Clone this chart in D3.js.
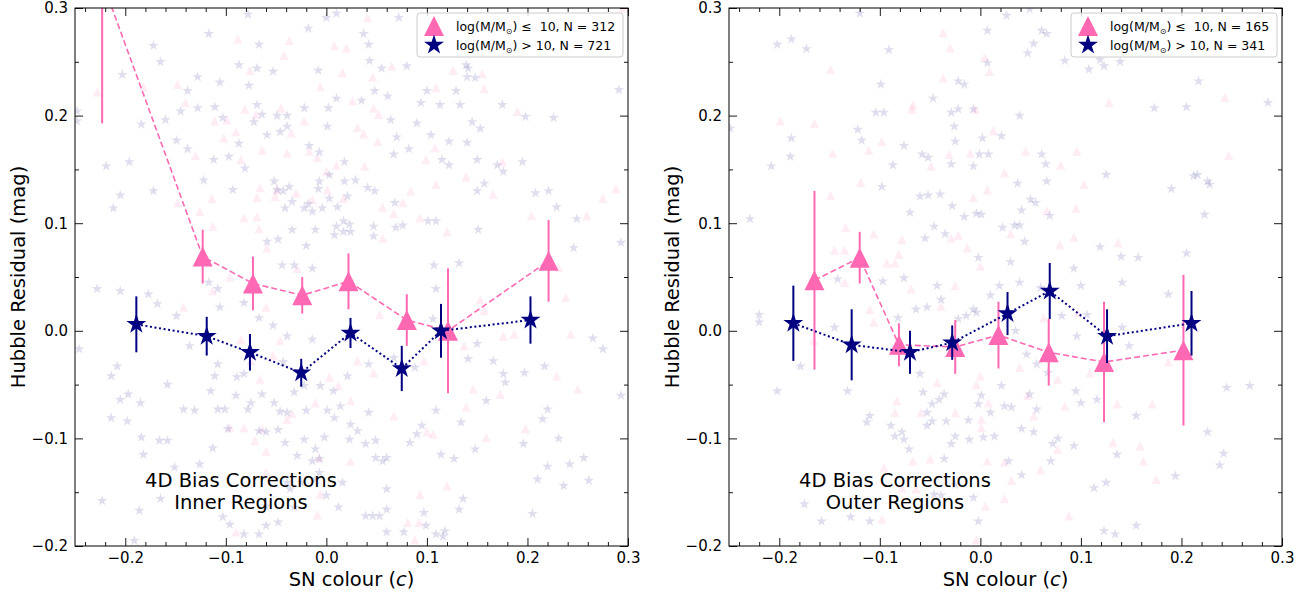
<!DOCTYPE html>
<html>
<head>
<meta charset="utf-8">
<script src="https://cdn.jsdelivr.net/npm/d3@7"></script>
<style>
  body { margin: 0; background: #fff; }
  svg text { font-family: "DejaVu Sans", sans-serif; fill: #000; }
</style>
</head>
<body>
<svg id="fig" width="1314" height="595"></svg>
<script>
// ---------- axis ticks ----------
const xMajorTicks = [-0.2, -0.1, 0.0, 0.1, 0.2, 0.3];
const xMinorTicks = [-0.24, -0.22, -0.18, -0.16, -0.14, -0.12, -0.08, -0.06, -0.04, -0.02,
                     0.02, 0.04, 0.06, 0.08, 0.12, 0.14, 0.16, 0.18, 0.22, 0.24, 0.26, 0.28];
const yMajorTicks = [-0.2, -0.1, 0.0, 0.1, 0.2, 0.3];
const yMinorTicks = [-0.15, -0.05, 0.05, 0.15, 0.25];

// ---------- binned means: inner regions ----------
const innerLowC    = [-0.223, -0.123, -0.073, -0.024, 0.022, 0.080, 0.121, 0.221];
const innerLowHR   = [0.325, 0.069, 0.044, 0.033, 0.046, 0.010, 0.000, 0.065];
const innerLowErr  = [0.132, 0.025, 0.025, 0.017, 0.026, 0.024, 0.058, 0.038];
const innerHighC   = [-0.189, -0.119, -0.076, -0.025, 0.024, 0.075, 0.114, 0.203];
const innerHighHR  = [0.006, -0.005, -0.020, -0.039, -0.002, -0.035, 0.000, 0.010];
const innerHighErr = [0.026, 0.018, 0.017, 0.013, 0.014, 0.021, 0.025, 0.022];

// ---------- binned means: outer regions ----------
const outerLowC    = [-0.165, -0.120, -0.081, -0.025, 0.018, 0.068, 0.123, 0.202];
const outerLowHR   = [0.047, 0.068, -0.013, -0.015, -0.004, -0.020, -0.029, -0.018];
const outerLowErr  = [0.083, 0.024, 0.020, 0.025, 0.031, 0.031, 0.056, 0.070];
const outerHighC   = [-0.186, -0.128, -0.070, -0.028, 0.027, 0.069, 0.126, 0.210];
const outerHighHR  = [0.007, -0.013, -0.020, -0.011, 0.016, 0.037, -0.005, 0.007];
const outerHighErr = [0.035, 0.033, 0.020, 0.016, 0.020, 0.026, 0.025, 0.030];

// ---------- individual SNe (colour, Hubble residual) ----------
const innerHighSN = [
 [-0.248,0.204],[-0.248,0.195],[-0.219,0.153],[-0.196,0.157],[-0.205,0.126],[-0.212,0.114],[-0.172,0.130],
 [-0.172,0.265],[-0.165,0.250],[-0.203,0.238],[-0.184,0.192],[-0.160,0.196],[-0.138,0.223],[-0.145,0.204],
 [-0.149,0.177],[-0.138,0.169],[-0.128,0.236],[-0.128,0.207],[-0.122,0.140],[-0.117,0.276],[-0.111,0.208],
 [-0.106,0.231],[-0.103,0.198],[-0.112,0.159],[-0.097,0.162],[-0.093,0.131],[-0.087,0.247],[-0.087,0.174],
 [-0.081,0.151],[-0.077,0.228],[-0.069,0.210],[-0.072,0.194],[-0.069,0.244],[-0.067,0.266],[-0.064,0.201],
 [-0.059,0.182],[-0.053,0.241],[-0.049,0.200],[-0.046,0.185],[-0.039,0.200],[-0.039,0.190],[-0.052,0.139],
 [-0.049,0.131],[-0.043,0.130],[-0.037,0.134],[-0.034,0.120],[-0.041,0.114],[-0.022,0.207],[-0.017,0.172],
 [-0.018,0.281],[-0.008,0.242],[-0.007,0.166],[0.001,0.190],[0.002,0.207],[0.010,0.216],[0.010,0.295],
 [0.000,0.291],[0.018,0.157],[0.018,0.139],[0.021,0.125],[0.029,0.140],[0.035,0.214],[0.041,0.133],
 [0.037,0.276],[0.042,0.266],[0.043,0.251],[0.048,0.223],[0.048,0.130],[0.055,0.244],[0.061,0.218],
 [0.064,0.196],[0.067,0.164],[0.068,0.119],[0.070,0.180],[0.080,0.246],[0.082,0.169],[0.094,0.212],
 [0.090,0.193],[0.100,0.223],[0.104,0.182],[0.113,0.210],[0.115,0.159],[0.122,0.176],[0.122,0.154],
 [0.129,0.223],[0.133,0.210],[0.139,0.247],[0.140,0.236],[0.140,0.175],[0.145,0.194],[0.150,0.159],
 [0.153,0.188],[0.157,0.137],[0.150,0.130],[0.170,0.154],[0.175,0.210],[0.176,0.148],[0.195,0.157],
 [0.198,0.199],[0.226,0.198],[0.221,0.130],[0.229,0.115],[0.249,0.104],[0.291,0.224],[0.293,0.082],
 [-0.018,0.118],[-0.022,0.114],[-0.014,0.111],[-0.004,0.114],[0.003,0.123],[0.011,0.115],[0.017,0.102],
 [0.023,0.099],[0.010,0.097],[0.003,0.145],[-0.007,0.139],[-0.008,0.132],[-0.034,0.094],[-0.020,0.079],
 [-0.011,0.094],[0.008,0.089],[0.017,0.092],[0.024,0.092],[0.047,0.097],[0.047,0.088],[0.069,0.096],
 [0.076,0.098],[0.101,0.102],[0.109,0.102],[0.107,0.061],[0.132,0.063],[0.151,0.094],[0.246,0.077],
 [0.208,0.128],[-0.059,0.083],[-0.048,0.085],[-0.044,0.061],[-0.032,0.061],[-0.014,0.058],[0.141,0.244],
 [0.148,0.235],[0.072,0.291],[-0.078,0.294],
 [-0.228,0.039],[-0.205,0.037],[-0.177,0.034],[-0.246,-0.017],[-0.208,-0.033],[-0.214,-0.042],[-0.205,-0.064],
 [-0.197,-0.059],[-0.185,-0.067],[-0.158,-0.050],[-0.214,-0.081],[-0.198,-0.084],[-0.184,-0.099],[-0.166,-0.102],
 [-0.158,-0.102],[-0.182,-0.115],[-0.191,-0.195],[-0.223,-0.158],[-0.186,-0.167],[-0.165,-0.156],[-0.151,-0.127],
 [-0.142,-0.073],[-0.131,-0.074],[-0.126,-0.124],[-0.113,-0.109],[-0.115,-0.056],[-0.111,-0.042],[-0.108,-0.031],
 [-0.108,-0.073],[-0.101,-0.073],[-0.098,-0.091],[-0.089,-0.043],[-0.090,-0.060],[-0.082,-0.040],[-0.078,-0.073],
 [-0.075,-0.067],[-0.064,-0.059],[-0.067,-0.093],[-0.060,-0.094],[-0.048,-0.092],[-0.052,-0.067],[-0.046,-0.075],
 [-0.041,-0.104],[-0.039,-0.076],[-0.032,-0.057],[-0.022,-0.051],[-0.020,-0.074],[-0.029,-0.116],[-0.022,-0.101],
 [-0.039,-0.141],[-0.036,-0.147],[-0.025,-0.141],[-0.014,-0.121],[-0.007,-0.119],[-0.007,-0.132],[-0.011,-0.110],
 [-0.002,-0.099],[0.001,-0.074],[0.008,-0.081],[0.014,-0.070],[0.023,-0.101],[0.024,-0.087],[0.031,-0.093],
 [0.039,-0.105],[0.042,-0.076],[0.049,-0.102],[0.049,-0.118],[0.056,-0.121],[0.060,-0.118],[0.060,-0.147],
 [0.046,-0.172],[0.053,-0.172],[0.060,-0.166],[0.060,-0.187],[0.077,-0.187],[0.083,-0.104],[0.090,-0.096],
 [0.095,-0.088],[0.097,-0.169],[0.099,-0.181],[0.109,-0.074],[0.114,-0.115],[0.109,-0.189],[0.116,-0.191],
 [0.118,-0.186],[0.127,-0.119],[0.134,-0.085],[0.132,-0.166],[0.136,-0.156],[0.148,-0.110],[0.159,-0.065],
 [0.166,-0.028],[0.176,-0.040],[0.178,-0.048],[0.196,-0.105],[0.197,-0.039],[0.205,-0.170],[0.210,-0.138],
 [0.215,-0.082],[0.220,-0.073],[0.220,-0.126],[0.231,-0.100],[0.236,-0.144],[0.242,-0.124],[0.256,-0.118],
 [0.261,-0.139],[0.265,-0.007],[0.275,-0.017],[0.293,-0.060],[0.217,-0.033],[0.141,-0.026],[0.150,-0.012],
 [0.106,0.011],[0.109,0.039],[0.088,-0.034],[0.067,-0.025],[0.042,-0.031],[0.021,-0.042],[0.007,-0.056],
 [-0.006,-0.051],[-0.014,-0.008],[-0.039,-0.005],[-0.043,-0.029],[-0.053,0.005],[-0.067,0.012],[-0.082,0.026],
 [-0.106,0.022],[-0.108,0.039],[-0.117,0.045],[-0.149,0.014],[-0.136,-0.014],[-0.168,0.025],[-0.060,-0.181],
 [-0.048,-0.178],[-0.067,-0.189],[-0.082,-0.189],[-0.096,-0.180],[-0.103,-0.173],[-0.060,-0.163],[-0.011,-0.138],
 [0.016,-0.141],[0.012,-0.164],[0.039,-0.172],[0.000,-0.153],[-0.032,-0.164]
];
const innerLowSN = [
 [-0.228,0.222],[-0.182,0.227],[-0.148,0.229],[-0.140,0.212],[-0.130,0.163],[-0.126,0.111],[-0.148,0.119],
 [-0.114,0.123],[-0.113,0.097],[-0.111,0.195],[-0.099,0.196],[-0.102,0.179],[-0.090,0.185],[-0.085,0.159],
 [-0.088,0.271],[-0.081,0.206],[-0.076,0.242],[-0.070,0.201],[-0.066,0.133],[-0.069,0.124],[-0.069,0.106],
 [-0.064,0.168],[-0.049,0.131],[-0.051,0.125],[-0.045,0.207],[-0.042,0.256],[-0.037,0.270],[-0.035,0.184],
 [-0.039,0.165],[-0.030,0.128],[-0.022,0.195],[-0.017,0.167],[-0.014,0.122],[-0.009,0.161],[-0.006,0.227],
 [0.000,0.148],[0.001,0.131],[0.008,0.265],[0.010,0.154],[0.016,0.240],[0.017,0.123],[0.020,0.263],
 [0.026,0.214],[0.031,0.189],[0.037,0.183],[0.038,0.153],[0.041,0.291],[0.047,0.207],[0.046,0.236],
 [0.052,0.201],[0.051,0.176],[0.056,0.115],[0.065,0.246],[0.067,0.109],[0.076,0.119],[0.084,0.130],
 [0.093,0.105],[0.109,0.226],[0.108,0.170],[0.109,0.136],[0.099,0.159],[0.126,0.242],[0.139,0.143],
 [0.155,0.239],[0.157,0.225],[0.166,0.127],[0.175,0.157],[0.190,0.204],[0.204,0.107],[0.259,0.107],
 [0.275,0.123],[0.288,0.132],[0.295,0.300],[0.231,0.059],[0.120,0.092],[0.056,0.086],[-0.029,0.058],
 [-0.059,0.077],[-0.067,0.095],[-0.082,0.105],
 [-0.142,0.022],[-0.113,0.037],[-0.096,0.050],[-0.085,-0.008],[-0.075,-0.028],[-0.066,-0.045],[-0.060,0.022],
 [-0.046,-0.009],[-0.053,-0.023],[-0.034,-0.077],[-0.011,-0.067],[0.003,-0.043],[0.012,-0.051],[0.024,-0.065],
 [0.031,-0.028],[0.047,-0.039],[0.053,0.015],[0.067,-0.079],[0.097,-0.028],[0.100,-0.094],[0.106,-0.096],
 [0.137,-0.014],[0.139,-0.071],[0.146,-0.054],[0.159,-0.099],[0.173,-0.059],[0.176,-0.005],[0.187,-0.003],
 [0.198,-0.091],[0.229,-0.042],[0.243,-0.003],[0.250,-0.054],[0.238,0.031],[0.153,0.029],[0.157,0.019],
 [0.120,-0.144],[0.093,-0.152],[0.081,-0.178],[0.092,-0.178],[0.088,-0.194],[-0.009,-0.171],[-0.007,-0.118],
 [-0.039,-0.082],[-0.064,-0.091],[-0.082,-0.090],[-0.096,-0.090],[-0.071,-0.102],[-0.060,-0.112],[-0.060,-0.132],
 [-0.090,-0.187],[0.024,-0.121],[-0.006,-0.152]
];
const outerHighSN = [
 [-0.249,0.188],[-0.229,0.104],[-0.208,0.153],[-0.202,0.266],[-0.188,0.271],[-0.173,0.262],[-0.189,0.162],
 [-0.188,0.179],[-0.122,0.187],[-0.118,0.177],[-0.120,0.295],[-0.099,0.229],[-0.104,0.203],[-0.096,0.203],
 [-0.098,0.134],[-0.091,0.261],[-0.087,0.154],[-0.076,0.172],[-0.070,0.110],[-0.060,0.125],[-0.058,0.164],
 [-0.055,0.086],[-0.052,0.161],[-0.047,0.216],[-0.046,0.097],[-0.052,0.126],[-0.040,0.127],[-0.035,0.090],
 [-0.029,0.203],[-0.026,0.190],[-0.025,0.176],[-0.028,0.116],[-0.029,0.155],[-0.022,0.232],[-0.022,0.206],
 [-0.016,0.229],[-0.016,0.106],[-0.007,0.153],[-0.007,0.206],[-0.004,0.109],[-0.002,0.068],[-0.001,0.164],
 [0.001,0.108],[0.002,0.179],[0.007,0.279],[0.007,0.249],[0.008,0.164],[0.021,0.181],[0.022,0.096],
 [0.026,0.293],[0.030,0.064],[0.034,0.098],[0.039,0.200],[0.039,0.098],[0.037,0.137],[0.044,0.083],
 [0.041,0.112],[0.047,0.258],[0.050,0.122],[0.055,0.119],[0.053,0.267],[0.061,0.279],[0.066,0.276],
 [0.061,0.164],[0.066,0.139],[0.065,0.155],[0.069,0.107],[0.084,0.251],[0.108,0.243],[0.119,0.252],
 [0.123,0.246],[0.125,0.145],[0.119,0.078],[0.140,0.069],[0.157,0.068],[0.173,0.207],[0.190,0.132],
 [0.205,0.208],[0.212,0.144],[0.216,0.145],[0.226,0.139],[0.228,0.136],[0.217,0.232],[0.223,0.108],
 [0.205,0.072],[0.286,0.212],[0.139,0.250],[0.120,0.268],[0.093,0.058],[0.049,0.299],
 [-0.220,0.015],[-0.220,0.008],[-0.202,-0.056],[-0.179,-0.033],[-0.175,-0.161],[-0.158,-0.177],[-0.145,0.003],
 [-0.132,-0.056],[-0.129,-0.173],[-0.113,-0.085],[-0.110,-0.079],[-0.110,-0.177],[-0.097,0.046],[-0.089,-0.088],
 [-0.085,-0.098],[-0.078,-0.094],[-0.076,-0.101],[-0.071,-0.110],[-0.076,0.049],[-0.082,0.012],[-0.064,0.020],
 [-0.060,-0.040],[-0.057,-0.057],[-0.053,-0.076],[-0.053,-0.088],[-0.048,-0.084],[-0.048,-0.068],[-0.041,-0.064],
 [-0.036,-0.059],[-0.034,-0.084],[-0.029,-0.105],[-0.025,-0.098],[-0.036,-0.119],[-0.046,-0.152],[-0.039,-0.153],
 [-0.025,-0.143],[-0.007,-0.155],[-0.002,-0.177],[-0.012,-0.083],[-0.011,-0.101],[-0.002,-0.068],[0.001,-0.060],
 [0.003,-0.099],[0.010,-0.076],[0.014,-0.098],[0.021,-0.051],[0.024,-0.070],[0.028,-0.121],[0.031,-0.071],
 [0.041,-0.091],[0.041,-0.134],[0.049,-0.059],[0.053,-0.094],[0.056,-0.073],[0.070,-0.121],[0.072,-0.105],
 [0.077,-0.100],[0.081,0.014],[0.093,-0.107],[0.095,-0.056],[0.100,-0.067],[0.106,0.015],[0.113,-0.146],
 [0.116,-0.064],[0.125,-0.141],[0.123,-0.186],[0.134,-0.189],[0.136,-0.115],[0.148,-0.014],[0.155,-0.079],
 [0.155,-0.181],[0.194,-0.135],[0.226,-0.094],[0.238,-0.125],[0.242,-0.114],[0.245,-0.053],[0.268,-0.051],
 [0.187,0.034],[0.141,0.045],[0.100,0.042],[0.019,0.042],[-0.004,0.017],[-0.043,0.042],[-0.142,0.048],
 [0.035,0.000],[0.046,-0.022],[0.056,-0.031],[0.067,-0.039],[0.060,0.040],[-0.014,0.014],[-0.022,0.011],
 [-0.053,0.022],[-0.039,0.029],[0.010,0.033],[0.096,-0.005],[0.039,0.045],[-0.007,0.020],[0.141,0.003]
];
const outerLowSN = [
 [-0.199,0.195],[-0.165,0.193],[-0.149,0.243],[-0.147,0.165],[-0.149,0.126],[-0.119,0.138],[-0.111,0.168],
 [-0.106,0.090],[-0.098,0.176],[-0.093,0.063],[-0.085,0.063],[-0.081,0.071],[-0.078,0.085],[-0.067,0.210],
 [-0.068,0.206],[-0.049,0.153],[-0.037,0.235],[-0.037,0.277],[-0.030,0.263],[-0.031,0.164],[-0.029,0.086],
 [-0.022,0.089],[-0.013,0.077],[-0.010,0.165],[-0.007,0.124],[-0.005,0.206],[0.000,0.060],[0.004,0.254],
 [0.007,0.131],[0.009,0.241],[0.013,0.186],[0.024,0.147],[0.030,0.090],[0.045,0.167],[0.066,0.112],
 [0.079,0.080],[0.080,0.154],[0.093,0.087],[0.095,0.114],[0.096,0.167],[0.103,0.136],[0.128,0.212],
 [0.137,0.082],[0.243,0.217],[0.247,0.163],[-0.134,0.096],[-0.135,0.075],[-0.145,0.075],
 [-0.166,-0.009],[-0.135,0.045],[-0.110,0.020],[-0.106,0.008],[-0.083,-0.065],[-0.085,-0.076],[-0.059,-0.076],
 [-0.043,-0.048],[-0.030,-0.009],[-0.025,-0.076],[-0.004,-0.050],[0.000,-0.042],[0.001,-0.082],[0.001,-0.090],
 [0.008,-0.067],[0.007,-0.121],[0.024,-0.122],[0.031,-0.139],[0.039,-0.034],[0.047,-0.060],[0.053,-0.079],
 [0.060,-0.129],[0.077,-0.110],[0.084,-0.070],[0.097,0.017],[0.132,-0.104],[0.136,-0.068],[0.159,-0.107],
 [0.162,-0.121],[0.171,-0.068],[0.175,-0.138],[0.187,-0.029],[0.109,-0.039],[0.077,-0.045],[0.063,0.012],
 [-0.067,-0.121],[-0.050,-0.119],[-0.064,-0.147],[-0.096,-0.127],[-0.098,-0.175],[-0.078,-0.146],[0.005,-0.163],
 [0.024,-0.156],[-0.025,0.042],[-0.039,0.023],[-0.069,0.039],[0.088,-0.172],[-0.004,-0.194]
];

// ---------- styling ----------
const LOW_COLOR = "#ff69b4";
const HIGH_COLOR = "#000080";
const SCATTER_ALPHA = 0.13;

const svg = d3.select("#fig");

// five-pointed star centred on its circumscribed circle
function starPath(R) {
  const r = R * 0.381966;
  const pts = d3.range(10).map(i => {
    const a = -Math.PI / 2 + i * Math.PI / 5;
    const rr = i % 2 ? r : R;
    return [rr * Math.cos(a), rr * Math.sin(a)];
  });
  return "M" + pts.map(p => p[0].toFixed(2) + "," + p[1].toFixed(2)).join("L") + "Z";
}
// upward triangle centred on its bounding box
function triPath(h) {
  return `M0,${-h}L${-h},${h}L${h},${h}Z`;
}

function drawPanel(cfg) {
  const x = d3.scaleLinear().domain([-0.25, 0.3]).range([cfg.left, cfg.right]);
  const y = d3.scaleLinear().domain([-0.2, 0.3]).range([cfg.bottom, cfg.top]);
  const g = svg.append("g");

  const clipId = "clip-" + cfg.id;
  svg.append("defs").append("clipPath").attr("id", clipId)
    .append("rect")
    .attr("x", cfg.left).attr("y", cfg.top)
    .attr("width", cfg.right - cfg.left).attr("height", cfg.bottom - cfg.top);

  const plot = g.append("g").attr("clip-path", `url(#${clipId})`);

  // individual supernovae
  plot.append("g").selectAll("path").data(cfg.lowSN).join("path")
    .attr("d", triPath(4.6))
    .attr("transform", d => `translate(${x(d[0])},${y(d[1])})`)
    .attr("fill", LOW_COLOR).attr("fill-opacity", SCATTER_ALPHA);
  plot.append("g").selectAll("path").data(cfg.highSN).join("path")
    .attr("d", starPath(5.6))
    .attr("transform", d => `translate(${x(d[0])},${y(d[1])})`)
    .attr("fill", HIGH_COLOR).attr("fill-opacity", SCATTER_ALPHA);

  // binned means with error bars
  function binned(cs, hrs, errs, color, dash, lw, marker) {
    const pts = cs.map((c, i) => ({ c, hr: hrs[i], err: errs[i] }));
    plot.append("path")
      .datum(pts)
      .attr("d", d3.line().x(d => x(d.c)).y(d => y(d.hr)))
      .attr("fill", "none").attr("stroke", color)
      .attr("stroke-width", lw).attr("stroke-dasharray", dash);
    plot.append("g").selectAll("line").data(pts).join("line")
      .attr("x1", d => x(d.c)).attr("x2", d => x(d.c))
      .attr("y1", d => y(d.hr - d.err)).attr("y2", d => y(d.hr + d.err))
      .attr("stroke", color).attr("stroke-width", 2);
    plot.append("g").selectAll("path").data(pts).join("path")
      .attr("d", marker)
      .attr("transform", d => `translate(${x(d.c)},${y(d.hr)})`)
      .attr("fill", color);
  }
  binned(cfg.lowC, cfg.lowHR, cfg.lowErr, LOW_COLOR, "6,3", 1.6, triPath(10));
  binned(cfg.highC, cfg.highHR, cfg.highErr, HIGH_COLOR, "2,2.6", 2, starPath(10.5));

  // axes: ticks pointing inward on all four sides
  const fmt = d3.format(".1f");
  const axes = g.append("g");
  const addAxis = (gen, transform) => {
    const a = axes.append("g").attr("transform", transform).call(gen);
    a.select(".domain").remove();
    a.selectAll(".tick line").attr("stroke", "#000").attr("stroke-width", 0.9);
    a.selectAll("text").attr("font-size", 15).attr("fill", "#000")
      .attr("font-family", '"DejaVu Sans", sans-serif');
    return a;
  };
  addAxis(d3.axisBottom(x).tickValues(xMajorTicks).tickSize(-8).tickPadding(6).tickFormat(fmt),
          `translate(0,${cfg.bottom})`);
  addAxis(d3.axisBottom(x).tickValues(xMinorTicks).tickSize(-4).tickFormat(""),
          `translate(0,${cfg.bottom})`);
  addAxis(d3.axisTop(x).tickValues(xMajorTicks).tickSize(-8).tickFormat(""),
          `translate(0,${cfg.top})`);
  addAxis(d3.axisTop(x).tickValues(xMinorTicks).tickSize(-4).tickFormat(""),
          `translate(0,${cfg.top})`);
  addAxis(d3.axisLeft(y).tickValues(yMajorTicks).tickSize(-8).tickPadding(7).tickFormat(fmt),
          `translate(${cfg.left},0)`);
  addAxis(d3.axisLeft(y).tickValues(yMinorTicks).tickSize(-4).tickFormat(""),
          `translate(${cfg.left},0)`);
  addAxis(d3.axisRight(y).tickValues(yMajorTicks).tickSize(-8).tickFormat(""),
          `translate(${cfg.right},0)`);
  addAxis(d3.axisRight(y).tickValues(yMinorTicks).tickSize(-4).tickFormat(""),
          `translate(${cfg.right},0)`);

  g.append("rect")
    .attr("x", cfg.left).attr("y", cfg.top)
    .attr("width", cfg.right - cfg.left).attr("height", cfg.bottom - cfg.top)
    .attr("fill", "none").attr("stroke", "#000").attr("stroke-width", 1);

  // axis titles
  const xl = g.append("text")
    .attr("x", (cfg.left + cfg.right) / 2).attr("y", 586)
    .attr("text-anchor", "middle").attr("font-size", 19.5);
  xl.append("tspan").text("SN colour (");
  xl.append("tspan").attr("font-style", "italic").text("c");
  xl.append("tspan").text(")");

  g.append("text")
    .attr("transform", `translate(${cfg.left - 57},${(cfg.top + cfg.bottom) / 2}) rotate(-90)`)
    .attr("text-anchor", "middle").attr("dy", "0.35em").attr("font-size", 19.5)
    .text("Hubble Residual (mag)");

  // panel annotation
  const ann = g.append("text").attr("text-anchor", "middle").attr("font-size", 19.5);
  ann.append("tspan").attr("x", cfg.left + 166).attr("y", 487).text("4D Bias Corrections");
  ann.append("tspan").attr("x", cfg.left + 166).attr("y", 509).text(cfg.region);

  // legend
  const lw = 206, lh = 44;
  const lx = cfg.right - 5 - lw, ly = cfg.top + 5;
  const leg = g.append("g");
  leg.append("rect").attr("x", lx).attr("y", ly).attr("width", lw).attr("height", lh)
    .attr("rx", 3).attr("fill", "#fff").attr("fill-opacity", 0.8)
    .attr("stroke", "#cccccc").attr("stroke-width", 1);
  const rows = [
    { marker: triPath(10), color: LOW_COLOR, rel: "\u00a0\u2264\u00a0\u00a010", n: cfg.nLow, cy: ly + 13 },
    { marker: starPath(10.5), color: HIGH_COLOR, rel: " > 10", n: cfg.nHigh, cy: ly + 32 }
  ];
  rows.forEach(r => {
    leg.append("path").attr("d", r.marker)
      .attr("transform", `translate(${lx + 17},${r.cy})`).attr("fill", r.color);
    const t = leg.append("text").attr("x", lx + 39).attr("y", r.cy).attr("dy", "0.36em")
      .attr("font-size", 12.5).style("white-space", "pre");
    t.append("tspan").text("log(M/M");
    t.append("tspan").attr("font-size", 8).attr("dy", 3).text("\u2299");
    t.append("tspan").attr("dy", -3).text(")" + r.rel + ", N = " + r.n);
  });
}

drawPanel({
  id: "inner", left: 75, right: 628, top: 8, bottom: 546, region: "Inner Regions",
  lowSN: innerLowSN, highSN: innerHighSN,
  lowC: innerLowC, lowHR: innerLowHR, lowErr: innerLowErr,
  highC: innerHighC, highHR: innerHighHR, highErr: innerHighErr,
  nLow: 312, nHigh: 721
});
drawPanel({
  id: "outer", left: 729, right: 1282, top: 8, bottom: 546, region: "Outer Regions",
  lowSN: outerLowSN, highSN: outerHighSN,
  lowC: outerLowC, lowHR: outerLowHR, lowErr: outerLowErr,
  highC: outerHighC, highHR: outerHighHR, highErr: outerHighErr,
  nLow: 165, nHigh: 341
});
</script>
</body>
</html>
